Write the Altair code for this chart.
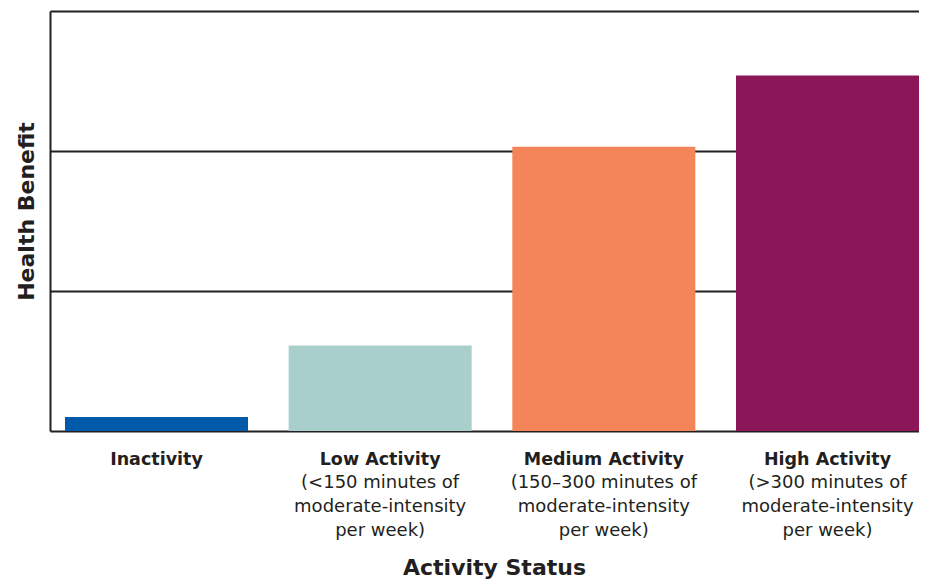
import altair as alt
import pandas as pd

categories = ["Inactivity", "Low Activity", "Medium Activity", "High Activity"]
descriptions = [
    "",
    "(<150 minutes of\nmoderate-intensity\nper week)",
    "(150–300 minutes of\nmoderate-intensity\nper week)",
    "(>300 minutes of\nmoderate-intensity\nper week)",
]
benefit = [0.1, 0.61, 2.03, 2.54]
colors = ["#0059a9", "#a8cfcc", "#f48558", "#8b1759"]

INK = "#231f20"
FONT = "DejaVu Sans"

df = pd.DataFrame({"category": categories, "benefit": benefit, "desc": descriptions})

x = alt.X(
    "category:N",
    sort=categories,
    scale=alt.Scale(paddingInner=0.1818, paddingOuter=0.0335, align=1),
    axis=alt.Axis(
        title="Activity Status",
        labelFont=FONT,
        labelFontWeight="bold",
        labelFontSize=17.5,
        labelColor=INK,
        labelAngle=0,
        labelPadding=19,
        ticks=False,
        tickSize=0,
        domainColor=INK,
        domainWidth=2,
        titleFont=FONT,
        titleFontSize=22,
        titleFontWeight="bold",
        titleColor=INK,
        titleBaseline="alphabetic",
        titleX=444,
        titleY=143,
    ),
)

y = alt.Y(
    "benefit:Q",
    scale=alt.Scale(domain=[0, 3], nice=False, zero=True),
    axis=alt.Axis(
        title="Health Benefit",
        values=[1, 2, 3],
        labels=False,
        ticks=False,
        grid=True,
        gridColor=INK,
        gridWidth=2,
        gridOpacity=1,
        domainColor=INK,
        domainWidth=2,
        titleFont=FONT,
        titleFontSize=22,
        titleFontWeight="bold",
        titleColor=INK,
        titleBaseline="alphabetic",
        titleX=-17,
        titleY=200,
    ),
)

bars = alt.Chart(df).mark_bar().encode(
    x=x,
    y=y,
    color=alt.Color("category:N", scale=alt.Scale(domain=categories, range=colors), legend=None),
)

desc = alt.Chart(df).mark_text(
    font=FONT,
    fontSize=18,
    lineBreak="\n",
    lineHeight=24,
    baseline="top",
    align="center",
    color=INK,
).encode(
    x=x,
    y=alt.value(463),
    text="desc:N",
)

chart = (
    alt.layer(bars, desc)
    .properties(
        width=869,
        height=420,
        autosize=alt.AutoSizeParams(type="none"),
        padding={"left": 42, "top": 3, "right": 0, "bottom": 148},
        background="white",
    )
    .configure_view(stroke=None)
)

chart.save("out.html", embed_options={"renderer": "svg", "actions": False})
